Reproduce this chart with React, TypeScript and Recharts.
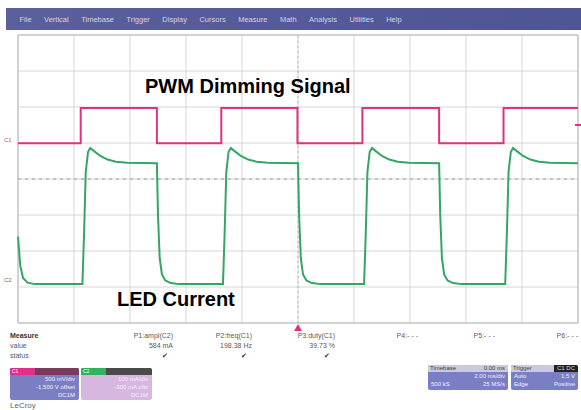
import React from 'react';
import {
  LineChart,
  Line,
  XAxis,
  YAxis,
  CartesianGrid,
  ReferenceLine,
  ReferenceArea
} from 'recharts';

// Time in screen divisions (10 across), level in divisions (8 high)
const pwmTime = [0, 1.12, 1.12, 2.48, 2.48, 3.63, 3.63, 4.99, 4.99, 6.15, 6.15, 7.52, 7.52, 8.67, 8.67, 10];
const pwmLevel = [4.99, 4.99, 5.97, 5.97, 4.99, 4.99, 5.97, 5.97, 4.99, 4.99, 5.97, 5.97, 4.99, 4.99, 5.97, 5.97];

const ledTime = [
  0, 0.04, 0.09, 0.17, 0.3,
  1.15, 1.18, 1.21, 1.25, 1.29, 1.37, 1.47, 1.6, 1.75, 1.95, 2.48, 2.5, 2.53, 2.57, 2.63, 2.73, 2.88,
  3.66, 3.69, 3.72, 3.76, 3.8, 3.88, 3.98, 4.11, 4.26, 4.46, 5.0, 5.02, 5.05, 5.09, 5.15, 5.25, 5.4,
  6.18, 6.21, 6.24, 6.28, 6.32, 6.4, 6.5, 6.63, 6.78, 6.98, 7.52, 7.54, 7.57, 7.61, 7.67, 7.77, 7.92,
  8.7, 8.73, 8.76, 8.8, 8.84, 8.92, 9.02, 9.15, 9.3, 9.5, 10
];
const ledLevel = [
  2.4, 1.6, 1.25, 1.12, 1.08,
  1.08, 2.5, 4.2, 4.75, 4.86, 4.76, 4.64, 4.54, 4.48, 4.45, 4.44, 3.0, 1.8, 1.35, 1.18, 1.11, 1.08,
  1.08, 2.5, 4.2, 4.75, 4.86, 4.76, 4.64, 4.54, 4.48, 4.45, 4.44, 3.0, 1.8, 1.35, 1.18, 1.11, 1.08,
  1.08, 2.5, 4.2, 4.75, 4.86, 4.76, 4.64, 4.54, 4.48, 4.45, 4.44, 3.0, 1.8, 1.35, 1.18, 1.11, 1.08,
  1.08, 2.5, 4.2, 4.75, 4.86, 4.76, 4.64, 4.54, 4.48, 4.45, 4.44
];

const xTicks = [0, 1, 2, 3, 4, 5, 6, 7, 8, 9, 10];
const yTicks = [0, 1, 2, 3, 4, 5, 6, 7, 8];

const menuItems = ['File', 'Vertical', 'Timebase', 'Trigger', 'Display', 'Cursors', 'Measure', 'Math', 'Analysis', 'Utilities', 'Help'];

const measureNames = ['P1:ampl(C2)', 'P2:freq(C1)', 'P3:duty(C1)', 'P4:- - -', 'P5:- - -', 'P6:- - -'];
const measureValues = ['584 mA', '198.38 Hz', '39.73 %', '', '', ''];
const measureStatus = ['\u2714', '\u2714', '\u2714', '', '', ''];

const pwmData = pwmTime.map((t, i) => ({ t, v: pwmLevel[i] }));
const ledData = ledTime.map((t, i) => ({ t, v: ledLevel[i] }));

const FONT = '"Liberation Sans", Arial, sans-serif';
const PINK = '#e1327f';
const GREEN = '#35a564';

const abs = (left: number, top: number, extra: React.CSSProperties = {}): React.CSSProperties => ({
  position: 'absolute',
  left,
  top,
  fontFamily: FONT,
  whiteSpace: 'nowrap',
  ...extra
});

const small: React.CSSProperties = { fontSize: 7, color: '#5a5a5a', lineHeight: '8px' };

const ChannelBox: React.FC<{ x: number; w: number; tag: string; tagColor: string; stripColor: string; body: string; lines: string[] }> = ({
  x, w, tag, tagColor, stripColor, body, lines
}) => (
  <div style={abs(x, 368, { width: w, height: 32, background: body, borderRadius: 2, overflow: 'hidden' })}>
    <div style={{ height: 7, background: stripColor, display: 'flex' }}>
      <div style={{ width: Math.round(w * 0.33), background: tagColor, fontSize: 5, color: '#fff', paddingLeft: 2, lineHeight: '7px' }}>{tag}</div>
    </div>
    {lines.map((l, i) => (
      <div key={i} style={{ fontSize: 6, color: '#f4f0ff', textAlign: 'right', paddingRight: 4, lineHeight: '8px' }}>{l}</div>
    ))}
  </div>
);

const InfoBox: React.FC<{ x: number; w: number; title: string; titleValue: string; rows: [string, string][]; dark?: boolean }> = ({
  x, w, title, titleValue, rows, dark
}) => (
  <div style={abs(x, 365, { width: w, height: 25, background: '#7a7ec4', borderRadius: 2, overflow: 'hidden', fontSize: 6, color: '#f2f2ff' })}>
    <div style={{ height: 7, background: '#c9cadb', display: 'flex', justifyContent: 'space-between', lineHeight: '7px', color: '#444', paddingLeft: 2 }}>
      <span>{title}</span>
      <span style={{ background: dark ? '#222' : 'transparent', color: dark ? '#ddd' : '#444', padding: '0 3px' }}>{titleValue}</span>
    </div>
    {rows.map(([a, b], i) => (
      <div key={i} style={{ display: 'flex', justifyContent: 'space-between', padding: '0 3px', lineHeight: '8px' }}>
        <span>{a}</span>
        <span>{b}</span>
      </div>
    ))}
  </div>
);

export default function App() {
  return (
    <div style={{ position: 'absolute', left: 0, top: 0, width: 581, height: 410, background: '#fff', overflow: 'hidden' }}>
      {/* menu bar */}
      <div style={abs(6, 8, { width: 575, height: 22, background: 'linear-gradient(90deg, #5b5f9c, #4e5593)', display: 'flex', alignItems: 'center', paddingLeft: 1 })}>
        {menuItems.map(m => (
          <span key={m} style={{ fontSize: 7.5, color: '#d4d4ec', marginLeft: 12.5 }}>{m}</span>
        ))}
      </div>

      <div style={abs(0, 0)}>
        <LineChart width={581} height={410} margin={{ top: 35, right: 3, bottom: 87, left: 18 }}>
          <CartesianGrid stroke="#d6d6d6" strokeWidth={1} />
          <XAxis type="number" dataKey="t" domain={[0, 10]} ticks={xTicks} hide />
          <YAxis type="number" dataKey="v" domain={[0, 8]} ticks={yTicks} hide />
          <ReferenceArea x1={0} x2={10} y1={0} y2={8} fill="none" stroke="#b9b9b9" strokeWidth={1} />
          <ReferenceLine y={4} stroke="#9a9a9a" strokeDasharray="3 4" />
          <ReferenceLine x={5} stroke="#b5b5b5" strokeDasharray="2 3" />
          <Line data={pwmData} dataKey="v" type="linear" stroke={PINK} strokeWidth={2} dot={false} isAnimationActive={false} />
          <Line data={ledData} dataKey="v" type="linear" stroke={GREEN} strokeWidth={2} dot={false} isAnimationActive={false} />
        </LineChart>
      </div>

      {/* channel markers */}
      <div style={abs(4, 137, { fontSize: 6, color: '#c0508a' })}>C1</div>
      <div style={abs(4, 277, { fontSize: 6, color: '#4a8a6a' })}>C2</div>
      <div style={abs(575, 124, { width: 6, height: 2, background: PINK })} />
      <div style={abs(294, 324, { width: 0, height: 0, borderLeft: '4px solid transparent', borderRight: '4px solid transparent', borderBottom: `7px solid ${PINK}` })} />

      {/* annotations */}
      <div style={abs(145, 75, { fontSize: 20, fontWeight: 'bold', color: '#000' })}>PWM Dimming Signal</div>
      <div style={abs(117, 288, { fontSize: 20, fontWeight: 'bold', color: '#000' })}>LED Current</div>

      {/* measurement table */}
      <div style={abs(10, 332, { ...small, fontWeight: 'bold', color: '#333' })}>Measure</div>
      <div style={abs(10, 342, small)}>value</div>
      <div style={abs(10, 352, small)}>status</div>
      {measureNames.map((n, i) => {
        const right = [173, 252, 335, 418, 495, 578][i];
        return (
          <React.Fragment key={n}>
            <div style={abs(right - 60, 332, { ...small, width: 60, textAlign: 'right' })}>{n}</div>
            <div style={abs(right - 60, 342, { ...small, width: 60, textAlign: 'right' })}>{measureValues[i]}</div>
            <div style={abs(right - 60, 352, { ...small, width: 55, textAlign: 'right', color: '#333' })}>{measureStatus[i]}</div>
          </React.Fragment>
        );
      })}

      <ChannelBox x={10} w={69} tag="C1" tagColor="#e0308a" stripColor="#7a3a5e" body="#7b7ec2"
        lines={['500 mV/div', '-1.500 V offset', 'DC1M']} />
      <ChannelBox x={81} w={71} tag="C2" tagColor="#2fb35e" stripColor="#4a4a4a" body="#d7b6df"
        lines={['100 mA/div', '-300 mA ofst', 'DC1M']} />

      <InfoBox x={428} w={80} title="Timebase" titleValue="0.00 ms" rows={[['', '2.00 ms/div'], ['500 kS', '25 MS/s']]} />
      <InfoBox x={511} w={67} title="Trigger" titleValue="C1 DC" dark rows={[['Auto', '1.5 V'], ['Edge', 'Positive']]} />

      <div style={abs(10, 401, { fontSize: 8, color: '#666' })}>LeCroy</div>
    </div>
  );
}
